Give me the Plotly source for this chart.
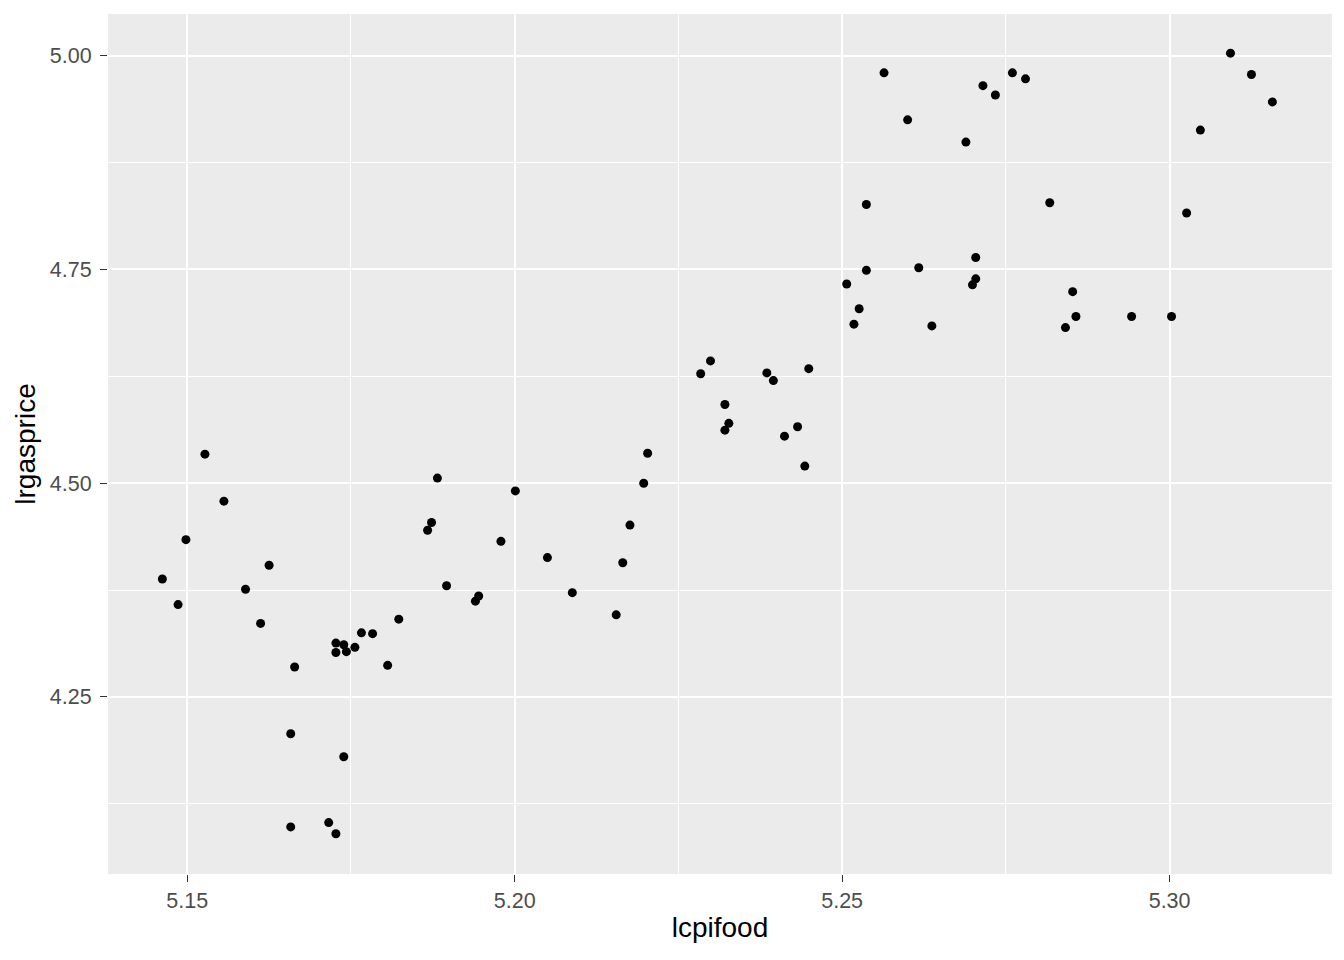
import plotly.graph_objects as go

lcpifood = [
    5.1527, 5.1556, 5.1498, 5.1462, 5.1486, 5.1625, 5.1589, 5.1612, 5.1664, 5.1658,
    5.1739, 5.1658, 5.1716, 5.1727, 5.1727, 5.1727, 5.1739, 5.1743, 5.1756, 5.1766,
    5.1783, 5.1806, 5.1823, 5.1873, 5.1867, 5.1882,
    5.1896, 5.1945, 5.1940, 5.2001, 5.1979, 5.2050, 5.2088, 5.2155, 5.2165, 5.2176,
    5.2197, 5.2203,
    5.2299, 5.2284, 5.2385, 5.2395, 5.2449, 5.2321, 5.2327, 5.2321, 5.2432, 5.2412,
    5.2443,
    5.2564, 5.2600, 5.2689, 5.2715, 5.2734, 5.2760, 5.2780, 5.2537, 5.2817, 5.2537,
    5.2507, 5.2617, 5.2704, 5.2704, 5.2699, 5.2526, 5.2518, 5.2637, 5.2852, 5.2857,
    5.2841,
    5.3093, 5.3125, 5.3157, 5.3047, 5.3026, 5.2942, 5.3003,
]
lrgasprice = [
    4.534, 4.479, 4.434, 4.388, 4.358, 4.404, 4.376, 4.336, 4.285, 4.207,
    4.180, 4.098, 4.103, 4.090, 4.313, 4.302, 4.311, 4.303, 4.308, 4.325,
    4.324, 4.287, 4.341, 4.454, 4.445, 4.506,
    4.380, 4.368, 4.362, 4.491, 4.432, 4.413, 4.372, 4.346, 4.407, 4.451,
    4.500, 4.535,
    4.643, 4.628, 4.629, 4.620, 4.634, 4.592, 4.570, 4.562, 4.566, 4.555,
    4.520,
    4.980, 4.925, 4.899, 4.965, 4.954, 4.980, 4.973, 4.826, 4.828, 4.749,
    4.733, 4.752, 4.764, 4.739, 4.732, 4.704, 4.686, 4.684, 4.724, 4.695,
    4.682,
    5.003, 4.978, 4.946, 4.913, 4.816, 4.695, 4.695,
]

x_ticks = [5.15, 5.20, 5.25, 5.30]
x_ticklabels = ["5.15", "5.20", "5.25", "5.30"]
y_ticks = [4.25, 4.50, 4.75, 5.00]
y_ticklabels = ["4.25", "4.50", "4.75", "5.00"]

fig = go.Figure(
    go.Scatter(
        x=lcpifood, y=lrgasprice, mode="markers",
        marker=dict(color="black", size=9, line=dict(width=0)),
        hoverinfo="x+y",
    )
)

font = "Liberation Sans, Arial, sans-serif"
axis_common = dict(
    showgrid=True, gridcolor="white", gridwidth=2,
    zeroline=False, showline=False,
    ticks="outside", ticklen=7, tickwidth=1.3, tickcolor="#333333",
    tickfont=dict(family=font, size=21.5, color="#4D4D4D"),
    title_font=dict(family=font, size=28, color="black"),
)

fig.update_layout(
    width=1336, height=952,
    paper_bgcolor="white", plot_bgcolor="#EBEBEB",
    margin=dict(l=100, r=12, t=6, b=86),
    showlegend=False,
    xaxis=dict(
        axis_common, range=[5.1379, 5.3248],
        tickvals=x_ticks, ticktext=x_ticklabels,
        minor=dict(tickvals=[5.175, 5.225, 5.275], showgrid=True, gridcolor="white", gridwidth=1, ticks=""),
        title=dict(text="lcpifood", standoff=5),
    ),
    yaxis=dict(
        axis_common, range=[4.0429, 5.0488],
        tickvals=y_ticks, ticktext=y_ticklabels,
        ticklabelstandoff=4,
        minor=dict(tickvals=[4.125, 4.375, 4.625, 4.875], showgrid=True, gridcolor="white", gridwidth=1, ticks=""),
        title=dict(text="lrgasprice", standoff=6),
    ),
)

fig.write_html("out.html")
